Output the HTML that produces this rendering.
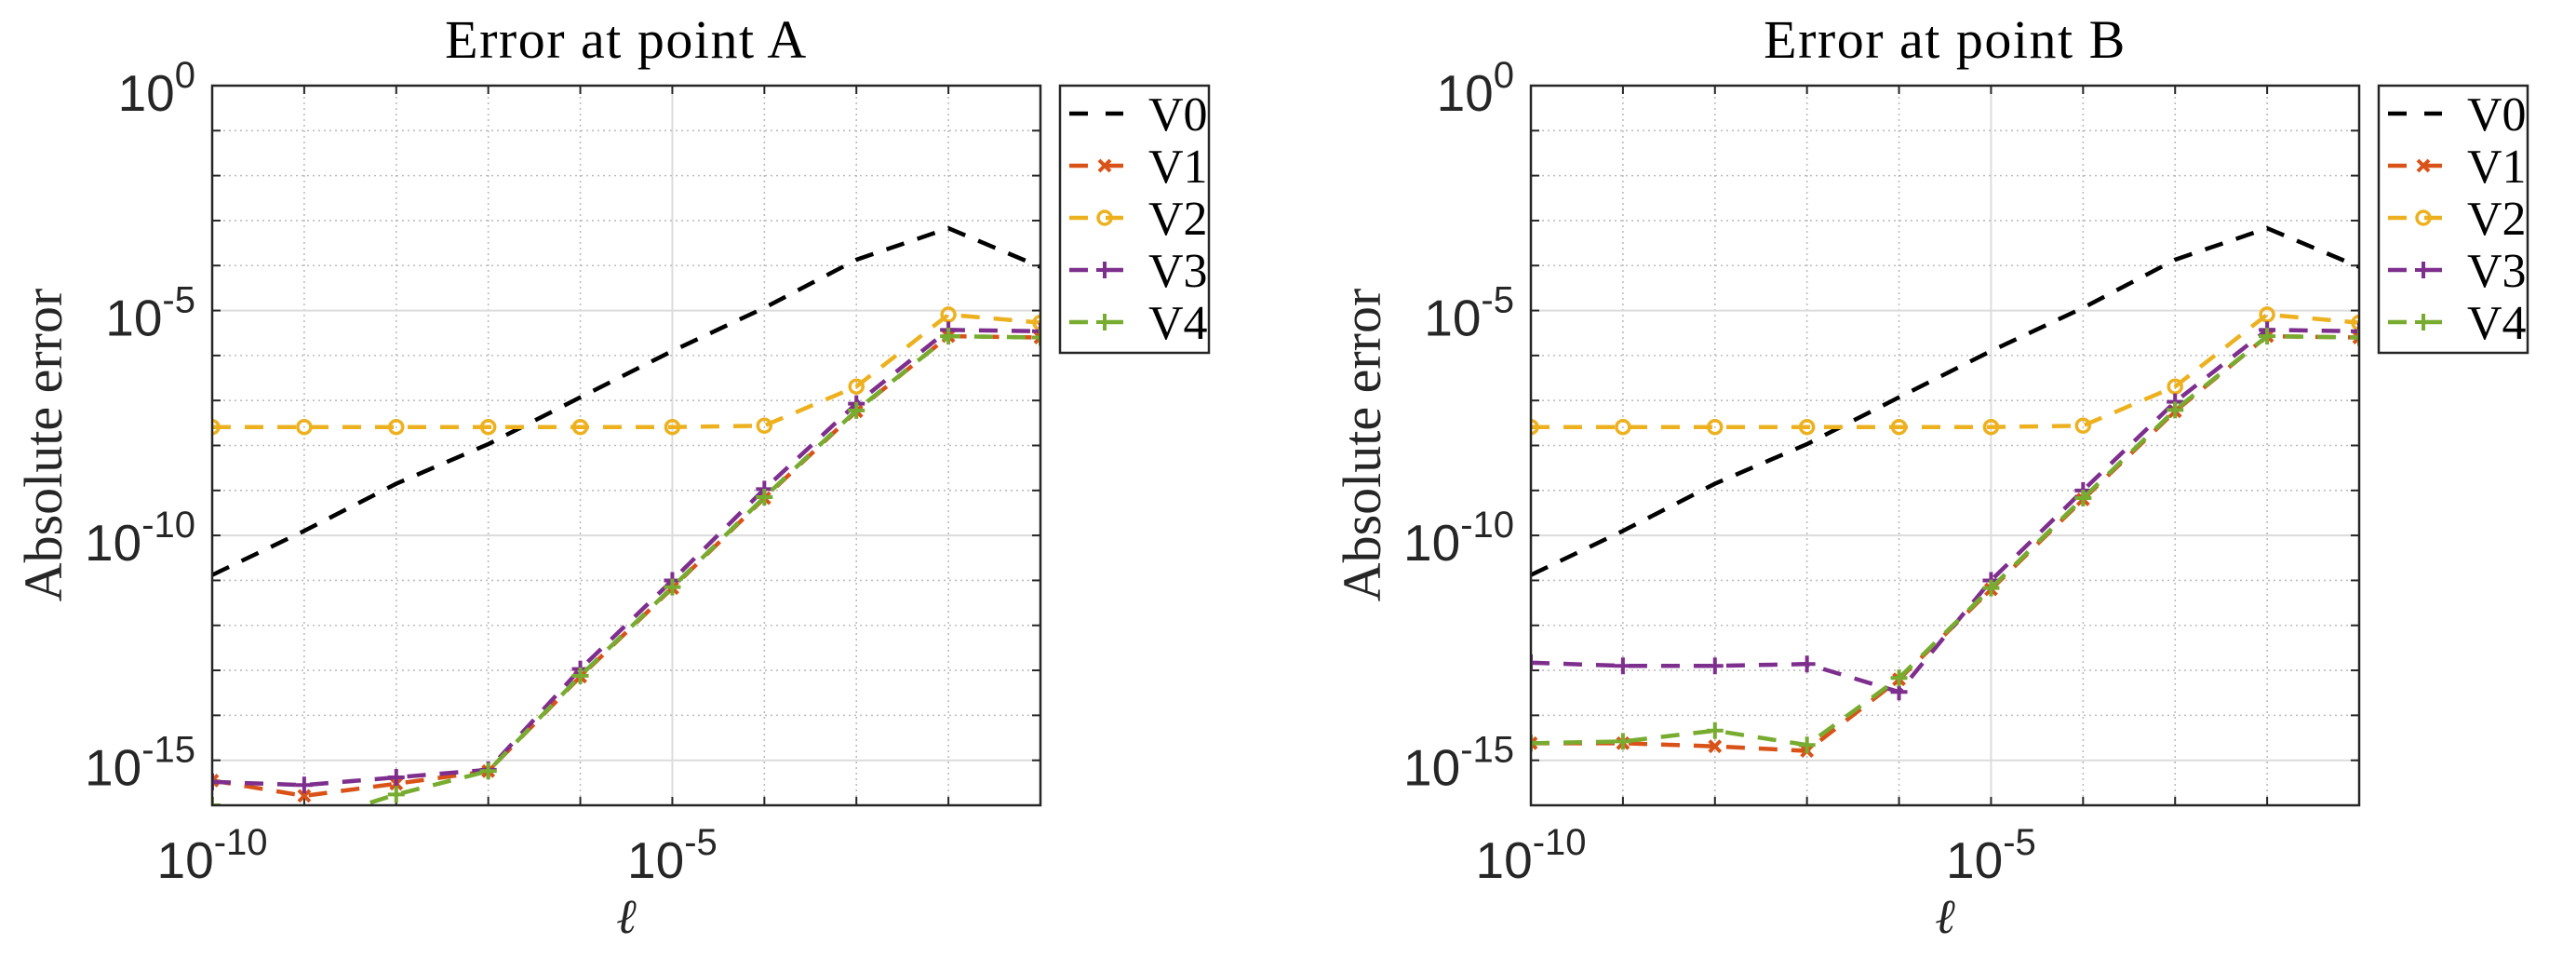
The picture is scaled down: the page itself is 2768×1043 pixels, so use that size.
<!DOCTYPE html>
<html><head><meta charset="utf-8"><style>
html,body{margin:0;padding:0;background:#fff;}
svg{display:block;}
</style></head><body>
<svg id="fig" width="2768" height="1043" viewBox="0 0 2768 1043" xmlns="http://www.w3.org/2000/svg"></svg>
<script>
// x values: exponents of ell (10^x)
const xExps = [-10,-9,-8,-7,-6,-5,-4,-3,-2,-1];
// series values stored as log10(absolute error)
const aV0 = [-10.88,-9.9,-8.85,-7.97,-6.93,-5.9,-4.94,-3.87,-3.17,-4.03];
const aV1 = [-15.45,-15.79,-15.52,-15.24,-13.14,-11.17,-9.17,-7.24,-5.57,-5.6];
const aV2 = [-7.59,-7.59,-7.59,-7.59,-7.59,-7.59,-7.56,-6.69,-5.09,-5.27];
const aV3 = [-15.48,-15.55,-15.38,-15.21,-12.97,-11.0,-8.97,-7.07,-5.43,-5.46];
const aV4 = [-16.0,-16.4,-15.76,-15.24,-13.12,-11.15,-9.15,-7.22,-5.57,-5.6];
const bV0 = [-10.88,-9.9,-8.85,-7.97,-6.93,-5.9,-4.94,-3.87,-3.17,-4.03];
const bV1 = [-14.62,-14.62,-14.69,-14.79,-13.2,-11.2,-9.2,-7.24,-5.57,-5.6];
const bV2 = [-7.59,-7.59,-7.59,-7.59,-7.59,-7.59,-7.56,-6.69,-5.09,-5.27];
const bV3 = [-12.83,-12.9,-12.9,-12.86,-13.48,-11.0,-9.0,-7.03,-5.43,-5.46];
const bV4 = [-14.62,-14.58,-14.34,-14.66,-13.17,-11.17,-9.17,-7.21,-5.57,-5.6];
const seriesNames = ["V0","V1","V2","V3","V4"];
const xTickExps = [-10,-5];
const yTickExps = [0,-5,-10,-15];
const titles = ["Error at point A","Error at point B"];

const NS="http://www.w3.org/2000/svg";
const svg=document.getElementById('fig');
function mk(tag,attrs,parent){const e=document.createElementNS(NS,tag);for(const k in attrs)e.setAttribute(k,attrs[k]);(parent||svg).appendChild(e);return e;}
const colors=["#000000","#D95319","#EDB120","#7E2F8E","#77AC30"];
const markers=[null,"x","o","+","+"];

function marker(type,cx,cy,col,g){
  if(type==="o"){const c=mk('circle',{cx:cx,cy:cy,r:7,fill:'none',stroke:col,'stroke-width':3.5},g);return c;}
  if(type==="+"){const p=mk('path',{d:`M${cx-9},${cy}H${cx+9}M${cx},${cy-9}V${cy+9}`,stroke:col,'stroke-width':4,fill:'none'},g);return p;}
  if(type==="x"){const p=mk('path',{d:`M${cx-6},${cy-6}L${cx+6},${cy+6}M${cx-6},${cy+6}L${cx+6},${cy-6}`,stroke:col,'stroke-width':4,fill:'none'},g);return p;}
}

function panel(idx,L,seriesList){
  const R=L+890, T=92, B=865;
  const xs=e=>L+(e-(-10))*(R-L)/9;
  const ys=v=>T+(0-v)*(B-T)/16;
  const g=mk('g',{});
  
  
  for(let e=-10;e<=-1;e++){
    if(e===-10) continue;
    const major=(e%5===0);
    const l=mk('line',{x1:xs(e),x2:xs(e),y1:T,y2:B,stroke:major?'#dcdcdc':'#bdbdbd','stroke-width':major?2:1.6,'stroke-dasharray':major?'':'2,4'},g);
    
    
  }
  for(let v=-1;v>=-15;v--){
    const major=(v%5===0);
    const l=mk('line',{x1:L,x2:R,y1:ys(v),y2:ys(v),stroke:major?'#dcdcdc':'#bdbdbd','stroke-width':major?2:1.6,'stroke-dasharray':major?'':'2,4'},g);
    
    
  }
  for(let e=-10;e<=-1;e++){
    mk('line',{x1:xs(e),x2:xs(e),y1:B,y2:B-9,stroke:'#262626','stroke-width':2},g);
    mk('line',{x1:xs(e),x2:xs(e),y1:T,y2:T+9,stroke:'#262626','stroke-width':2},g);
  }
  for(let v=0;v>=-16;v--){
    mk('line',{x1:L,x2:L+9,y1:ys(v),y2:ys(v),stroke:'#262626','stroke-width':2},g);
    mk('line',{x1:R,x2:R-9,y1:ys(v),y2:ys(v),stroke:'#262626','stroke-width':2},g);
  }
  const cid='clip'+idx;
  const cp=mk('clipPath',{id:cid},g);
  mk('rect',{x:L-1,y:T-1,width:R-L+2,height:B-T+2},cp);
  const dg=mk('g',{'clip-path':`url(#${cid})`},g);
  seriesList.forEach((vals,si)=>{
    const sg=mk('g',{},dg);
    
    
    const pts=vals.map((v,i)=>xs(xExps[i])+','+ys(v)).join(' ');
    const pl=mk('polyline',{points:pts,fill:'none',stroke:colors[si],'stroke-width':4.5,'stroke-dasharray':'20,15'},sg);
    
    
    if(markers[si]) vals.forEach((v,i)=>{
      const m=marker(markers[si],xs(xExps[i]),ys(v),colors[si],sg);
      
      
    });
  });
  const box=mk('rect',{x:L,y:T,width:R-L,height:B-T,fill:'none',stroke:'#262626','stroke-width':2.5},g);
  
  
  xTickExps.forEach(e=>{
    const t=mk('text',{x:xs(e),y:943,'text-anchor':'middle','font-family':'Liberation Sans, sans-serif','font-size':55,fill:'#262626'},g);
    
    
    t.appendChild(document.createTextNode('10'));
    const s=mk('tspan',{'font-size':40,dy:-25},t);s.textContent=String(e);
  });
  yTickExps.forEach(v=>{
    const t=mk('text',{x:L-18,y:ys(v)+27,'text-anchor':'end','font-family':'Liberation Sans, sans-serif','font-size':55,fill:'#262626'},g);
    
    
    t.appendChild(document.createTextNode('10'));
    const s=mk('tspan',{'font-size':40,dy:-25},t);s.textContent=String(v);
  });
  const ti=mk('text',{x:(L+R)/2,y:62,'text-anchor':'middle','font-family':'Liberation Serif, serif','font-size':58,'letter-spacing':1.5,fill:'#000'},g);
  ti.textContent=titles[idx];
  
  
  const yl=mk('text',{x:0,y:0,transform:`translate(${L-162},478) rotate(-90)`,'text-anchor':'middle','font-family':'Liberation Serif, serif','font-size':58,fill:'#262626'},g);
  yl.textContent='Absolute error';
  
  
  const xl=mk('text',{x:(L+R)/2,y:1002,'text-anchor':'middle','font-family':'DejaVu Serif, serif','font-style':'italic','font-size':52,fill:'#262626'},g);
  xl.textContent='ℓ';
  
  
  const LX=R+21;
  const lg=mk('g',{},g);
  
  
  mk('rect',{x:LX,y:92,width:160,height:287,fill:'#fff',stroke:'#262626','stroke-width':2.5},lg);
  seriesNames.forEach((n,si)=>{
    const y=122+si*56;
    const eg=mk('g',{},lg);
    
    
    mk('line',{x1:LX+10,x2:LX+68,y1:y,y2:y,stroke:colors[si],'stroke-width':4.5,'stroke-dasharray':'20,19'},eg);
    if(markers[si]) marker(markers[si],LX+48,y,colors[si],eg);
    const t=mk('text',{x:LX+95,y:y+18,'font-family':'Liberation Serif, serif','font-size':52,fill:'#000'},eg);
    t.textContent=n;
  });
}
panel(0,228,[aV0,aV1,aV2,aV3,aV4]);
panel(1,1645,[bV0,bV1,bV2,bV3,bV4]);
</script>
</body></html>
